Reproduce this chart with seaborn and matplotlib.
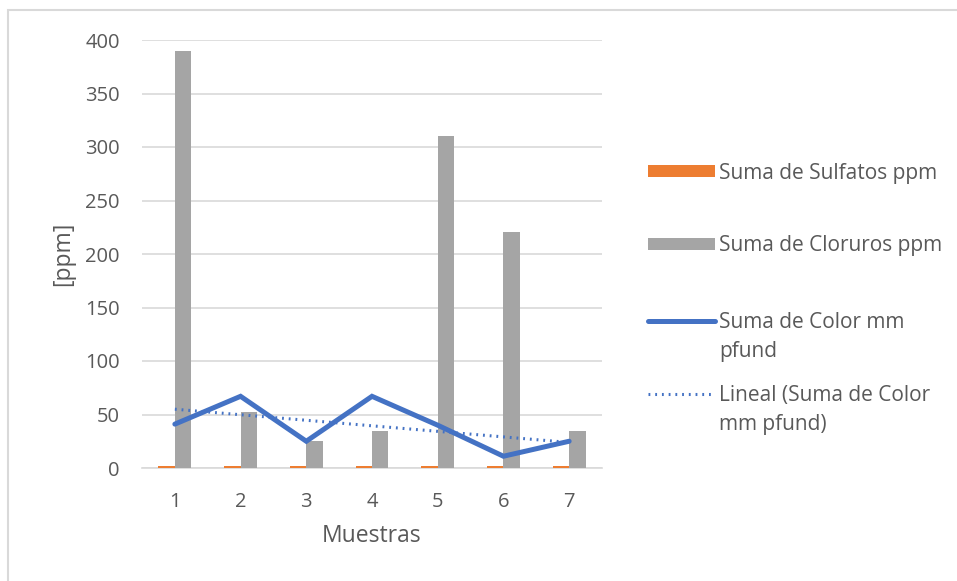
import numpy as np
import pandas as pd
import matplotlib
matplotlib.use("Agg")
import matplotlib.pyplot as plt
import seaborn as sns
from matplotlib.patches import Rectangle, Patch
from matplotlib.lines import Line2D

muestras = ["1", "2", "3", "4", "5", "6", "7"]
sulfatos = [2, 2, 2, 2, 2, 2, 2]
cloruros = [390, 52, 25, 35, 310, 221, 35]
color_mm = [41, 67, 25, 67, 40, 11, 25]
yticks = [0, 50, 100, 150, 200, 250, 300, 350, 400]

lab_sulf = "Suma de Sulfatos ppm"
lab_clor = "Suma de Cloruros ppm"
lab_color = ["Suma de Color mm", "pfund"]
lab_trend = ["Lineal (Suma de Color", "mm pfund)"]

sns.set_theme(style="white")
plt.rcParams['font.family'] = ['Open Sans', 'DejaVu Sans']
TXT = "#595959"
ORANGE, GREY, BLUE = "#ED7D31", "#A5A5A5", "#4472C4"
DOT = (0, (0.6, 1.6))

df = pd.DataFrame({
    "Muestras": muestras * 2,
    "valor": sulfatos + cloruros,
    "serie": [lab_sulf] * 7 + [lab_clor] * 7,
})

fig = plt.figure(figsize=(9.57, 5.81), dpi=100)
ax = fig.add_axes([142 / 957, 1 - 468 / 581, (602 - 142) / 957, (468 - 40) / 581])

sns.barplot(data=df, x="Muestras", y="valor", hue="serie",
            palette=[ORANGE, GREY], width=0.5, ax=ax, linewidth=0,
            saturation=1, legend=False, zorder=3)

xs = np.arange(len(muestras))
ax.plot(xs, color_mm, color=BLUE, lw=3.6, zorder=4, solid_joinstyle="miter")
coef = np.polyfit(xs, color_mm, 1)
ax.plot(xs, np.polyval(coef, xs), color=BLUE, lw=2.2, ls=DOT, zorder=4)

ax.set_xlim(-0.5, 6.5)
ax.set_ylim(0, 400)
ax.set_yticks(yticks)
ax.yaxis.grid(True, color="#D9D9D9", lw=1.2, zorder=0)
ax.set_axisbelow(True)
for s in ["top", "right", "left"]:
    ax.spines[s].set_visible(False)
ax.spines["bottom"].set_color("#D9D9D9")
ax.spines["bottom"].set_linewidth(1.2)
ax.spines["bottom"].set_zorder(1)
ax.tick_params(axis="y", length=0, labelsize=14.5, colors=TXT, pad=16)
ax.tick_params(axis="x", length=0, labelsize=14.5, colors=TXT, pad=17)
ax.set_xlabel("Muestras", fontsize=16.5, color=TXT, labelpad=9)
ax.set_ylabel("[ppm]", fontsize=16.5, color=TXT, labelpad=7)

LFS = 15
common = dict(frameon=False, fontsize=LFS, labelcolor=TXT, loc="center left",
              handlelength=3.2, handleheight=0.45, handletextpad=0.2,
              borderpad=0, borderaxespad=0)
blank = Patch(facecolor="none", edgecolor="none")

fig.legend([Patch(facecolor=ORANGE, edgecolor="none")], [lab_sulf],
           bbox_to_anchor=(648 / 957, 1 - 173 / 581), **common)
fig.legend([Patch(facecolor=GREY, edgecolor="none")], [lab_clor],
           bbox_to_anchor=(648 / 957, 1 - 246 / 581), **common)
fig.legend([Line2D([], [], color=BLUE, lw=3.6, solid_capstyle="round"), blank],
           lab_color, bbox_to_anchor=(648 / 957, 1 - 337 / 581),
           labelspacing=0.4, **common)
fig.legend([Line2D([], [], color=BLUE, lw=2.2, ls=DOT), blank],
           lab_trend, bbox_to_anchor=(648 / 957, 1 - 410 / 581),
           labelspacing=0.4, **common)

fig.patches.append(Rectangle((8 / 957, -10 / 581), 960 / 957, 581 / 581,
                             transform=fig.transFigure, fill=False,
                             edgecolor="#D9D9D9", lw=1.5))

fig.savefig("out.png", dpi=100)
